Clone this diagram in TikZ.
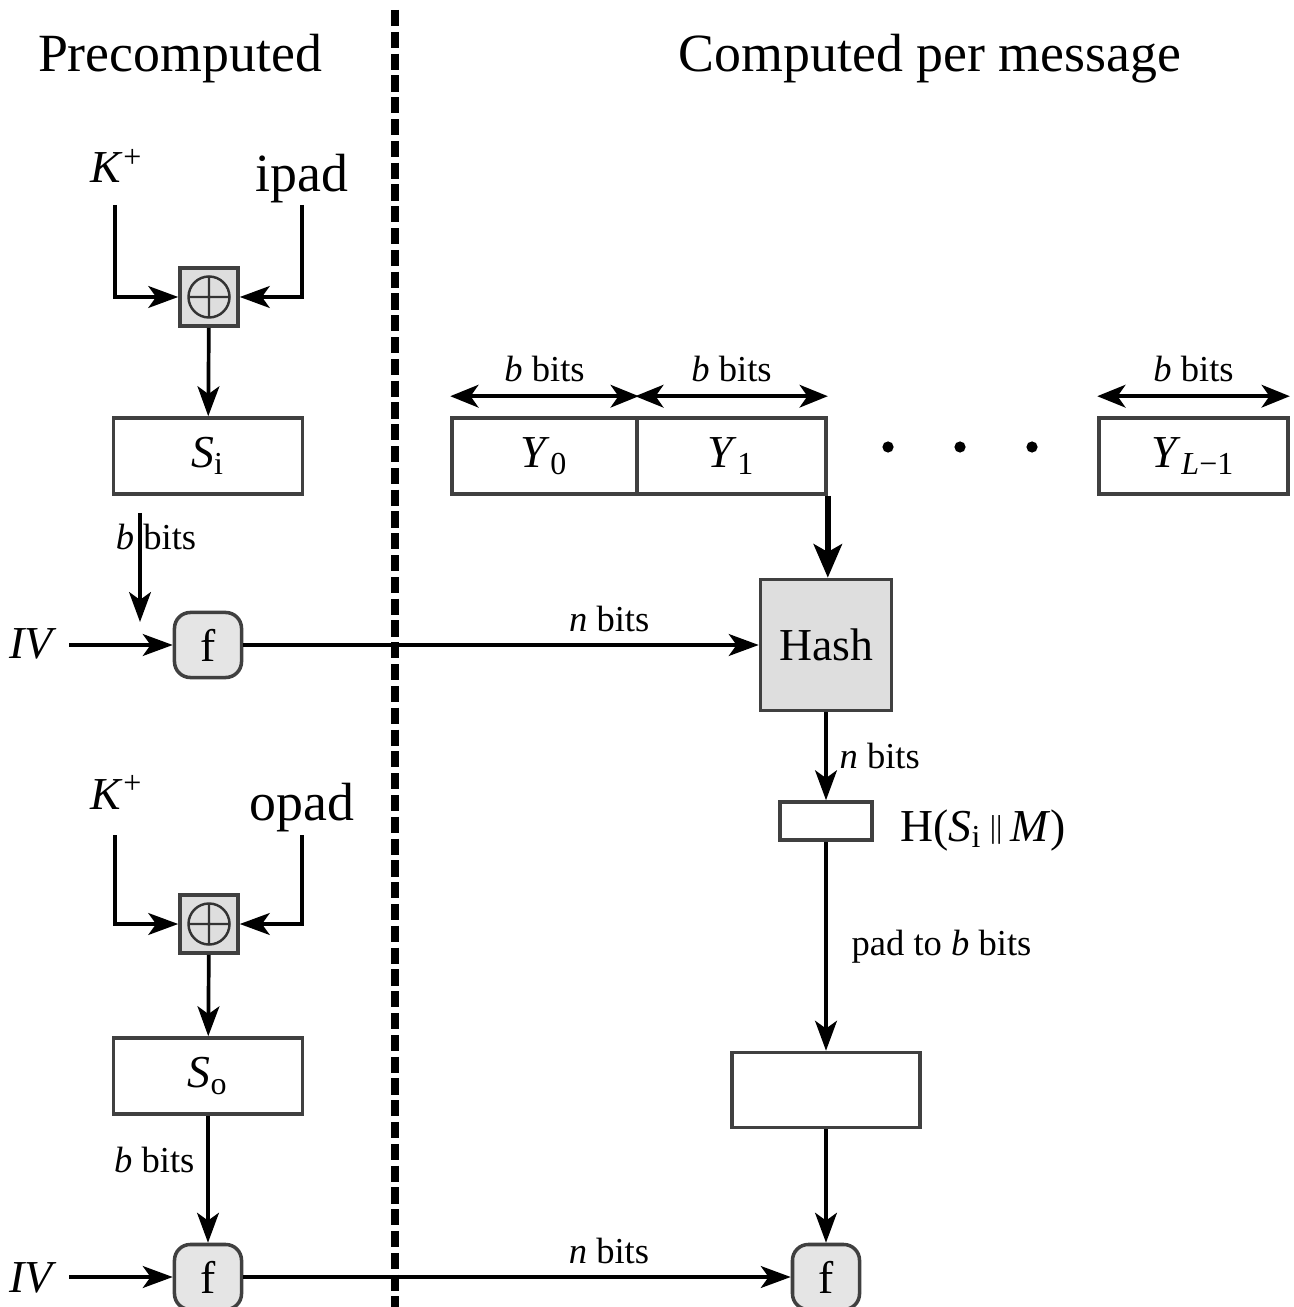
\documentclass[tikz,border=0pt]{standalone}
\usepackage{fontspec}
\setmainfont{Liberation Serif}
\usepackage{tikz}
\usetikzlibrary{arrows.meta}

\newcommand{\titlesize}{\fontsize{15.3}{18}\selectfont}
\newcommand{\boxsize}{\fontsize{13}{15}\selectfont}
\newcommand{\bitsize}{\fontsize{10.4}{12}\selectfont}

\begin{document}
\begin{tikzpicture}[x=0.01cm, y=-0.01cm,
  conn/.style={line width=1.05pt, -{Stealth[length=8.5pt, width=6.2pt, inset=2.2pt]}},
  thickconn/.style={line width=1.8pt, -{Stealth[length=9.5pt, width=8pt, inset=2.2pt]}},
  span/.style={line width=1.25pt, {Stealth[length=8pt, width=6.4pt, inset=2.2pt]}-{Stealth[length=8pt, width=6.4pt, inset=2.2pt]}},
  sep/.style={line width=2pt, dash pattern=on 4.6pt off 1.6pt},
  blk/.style={draw=black!75, line width=1pt, inner sep=0pt, font=\boxsize},
  xorbox/.style={blk, fill=black!13, minimum size=0.58cm,
    path picture={
      \draw[line width=0.7pt, black!80] (path picture bounding box.center) circle (0.205cm)
        ([xshift=-0.205cm]path picture bounding box.center) -- ([xshift=0.205cm]path picture bounding box.center)
        ([yshift=-0.205cm]path picture bounding box.center) -- ([yshift=0.205cm]path picture bounding box.center);
    }},
  fbox/.style={blk, fill=black!10, rounded corners=4.5pt, minimum width=0.67cm, minimum height=0.65cm},
  wide/.style={blk, minimum width=1.89cm, minimum height=0.76cm},
  title/.style={font=\titlesize, anchor=base},
  bits/.style={font=\bitsize}]
  \useasboundingbox (0,0) rectangle (1293,1307);

  \draw[sep] (395,10) -- (395,1307);
  \node[title] (pre) at (180,72) {Precomputed};
  \node[title] (cpm) at (930,72) {Computed per message};

  \node[font=\boxsize, anchor=base] (kin) at (117,183) {\textit{K}\textsuperscript{+}};
  \node[title] (ipad) at (302,192) {ipad};
  \node[xorbox] (xin) at (209,297) {};
  \node[wide] (si) at (208,456) {\textit{S}\textsubscript{i}};
  \coordinate (kinend) at (115,205);
  \coordinate (ipadend) at (302,205);
  \draw[conn] (kinend) |- (xin);
  \draw[conn] (ipadend) |- (xin);
  \draw[conn] (xin) -- (si);

  \coordinate (sibits) at (140,513);
  \coordinate (sibitsend) at (140,622);
  \draw[conn] (sibits) -- (sibitsend);
  \node[bits, anchor=base] (sibitslbl) at (156,550) {\textit{b} bits};

  \node[fbox] (f1) at (208,645) {f};
  \node[font=\boxsize, anchor=base] (iv1) at (33,658) {\textit{IV}};
  \draw[conn] (iv1.east |- f1) -- (f1);

  \node[blk, minimum width=1.85cm, minimum height=0.76cm] (y0) at (544.5,456) {\textit{Y}\textsubscript{0}};
  \node[wide] (y1) at (731.5,456) {\textit{Y}\textsubscript{1}};
  \node[wide] (yl) at (1193.5,456) {\textit{Y}\textsubscript{\textit{L}−1}};
  \foreach \x in {888,960,1032} { \fill (\x,447) circle (0.056cm); }
  \draw[span] ([yshift=0.2cm]y0.north west) -- node[bits, above] {\textit{b} bits} ([yshift=0.2cm]y0.north east);
  \draw[span] ([yshift=0.2cm]y1.north west) -- node[bits, above] {\textit{b} bits} ([yshift=0.2cm]y1.north east);
  \draw[span] ([yshift=0.2cm]yl.north west) -- node[bits, above] {\textit{b} bits} ([yshift=0.2cm]yl.north east);

  \node[blk, fill=black!13, minimum size=1.31cm] (hash) at (826,645) {Hash};
  \draw[thickconn] (y1.south east) -- (y1.south east |- hash.north);
  \draw[conn] (f1) -- node[bits, above, pos=0.71] {\textit{n} bits} (hash);

  \node[blk, minimum width=0.92cm, minimum height=0.38cm] (hsm) at (826,821) {};
  \draw[conn] (hash) -- node[bits, right, pos=0.5] {\textit{n} bits} (hsm);
  \node[font=\boxsize, anchor=base west] (hsmlbl) at (888,841) {H(\textit{S}\textsubscript{i}\,\raisebox{0.15ex}{\fontsize{9}{10}\selectfont ||}\,\textit{M})};

  \node[blk, minimum width=1.88cm, minimum height=0.75cm] (padbox) at (826,1090) {};
  \draw[conn] (hsm) -- node[bits, right=0.12cm, pos=0.5] {pad to \textit{b} bits} (padbox);

  \node[fbox] (f2) at (826,1277) {f};
  \draw[conn] (padbox) -- (f2);

  \node[font=\boxsize, anchor=base] (kout) at (117,809) {\textit{K}\textsuperscript{+}};
  \node[title] (opad) at (302,820) {opad};
  \node[xorbox] (xout) at (209,924) {};
  \node[wide] (so) at (208,1076) {\textit{S}\textsubscript{o}};
  \coordinate (koutend) at (115,835);
  \coordinate (opadend) at (302,835);
  \draw[conn] (koutend) |- (xout);
  \draw[conn] (opadend) |- (xout);
  \draw[conn] (xout) -- (so);

  \node[fbox] (f3) at (208,1277) {f};
  \draw[conn] (so) -- node[bits, left, pos=0.35] {\textit{b} bits} (f3);
  \node[font=\boxsize, anchor=base] (iv2) at (33,1292) {\textit{IV}};
  \draw[conn] (iv2.east |- f3) -- (f3);
  \draw[conn] (f3) -- node[bits, above, pos=0.668] {\textit{n} bits} (f2);
\end{tikzpicture}
\end{document}
